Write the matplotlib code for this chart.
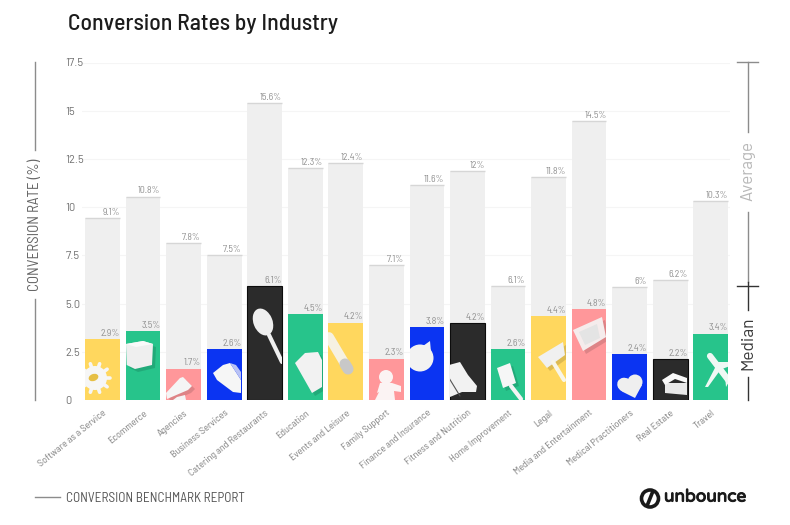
import matplotlib
matplotlib.use('Agg')
import matplotlib.pyplot as plt
import matplotlib.patheffects as pe
import numpy as np
from matplotlib.patches import Circle, Polygon, Ellipse

plt.rcParams['font.family'] = ['Barlow', 'Roboto', 'DejaVu Sans']
SEMI = ['Barlow Semi Condensed', 'Roboto', 'DejaVu Sans']

industries = ['Software as a Service', 'Ecommerce', 'Agencies', 'Business Services',
              'Catering and Restaurants', 'Education', 'Events and Leisure', 'Family Support',
              'Finance and Insurance', 'Fitness and Nutrition', 'Home Improvement', 'Legal',
              'Media and Entertainment', 'Medical Practitioners', 'Real Estate', 'Travel']
# bar heights as drawn, they sit a bit off from the printed labels
average = [9.43, 10.54, 8.12, 7.5, 15.38, 12.03, 12.27, 7.0,
           11.13, 11.85, 5.89, 11.54, 14.45, 5.84, 6.22, 10.3]
median = [3.16, 3.58, 1.62, 2.63, 5.91, 4.44, 4.01, 2.14,
          3.77, 3.98, 2.63, 4.35, 4.72, 2.38, 2.11, 3.44]
average_labels = ['9.1%', '10.8%', '7.8%', '7.5%', '15.6%', '12.3%', '12.4%', '7.1%',
                  '11.6%', '12%', '6.1%', '11.8%', '14.5%', '6%', '6.2%', '10.3%']
median_labels = ['2.9%', '3.5%', '1.7%', '2.6%', '6.1%', '4.5%', '4.2%', '2.3%',
                 '3.8%', '4.2%', '2.6%', '4.4%', '4.8%', '2.4%', '2.2%', '3.4%']
y_ticks = [0, 2.5, 5, 7.5, 10, 12.5, 15, 17.5]
y_tick_labels = ['0', '2.5', '5.0', '7.5', '10', '12.5', '15', '17.5']

YELLOW, GREEN, PINK, BLUE, BLACK = '#FFD75E', '#27C48B', '#FF979A', '#0B34F2', '#2B2B2B'
bar_colors = [YELLOW, GREEN, PINK, BLUE, BLACK, GREEN, YELLOW, PINK,
              BLUE, BLACK, GREEN, YELLOW, PINK, BLUE, BLACK, GREEN]

W, H = 790, 525
fig = plt.figure(figsize=(W / 100, H / 100), dpi=100, facecolor='white')
# plot area in pixels: x 82-730, y 62.5-400
ax = fig.add_axes([82 / W, 1 - 400 / H, 648 / W, 337.5 / H])
pitch = 40.55
ax.set_xlim((82 - 102.5) / pitch, (730 - 102.5) / pitch)
ax.set_ylim(0, 17.5)

x = np.arange(len(industries))
width = 34.7 / pitch
ax.bar(x, average, width, color='#EFEFEF', zorder=2)
ax.hlines(average, x - width / 2, x + width / 2, color='#D6D6D6', lw=1, zorder=3)
med_bars = ax.bar(x, median, width, color=bar_colors, zorder=4)
for b, c in zip(med_bars, bar_colors):
    if c == BLACK:
        b.set_edgecolor('#0C0C0C')
        b.set_linewidth(0.8)

for i in x:
    for val, lab in ((average[i], average_labels[i]), (median[i], median_labels[i])):
        ax.annotate(lab, (i + width / 2, val), xytext=(0, 1), textcoords='offset points',
                    ha='right', va='bottom', fontsize=7, color='#8F8F8F', zorder=6, family=SEMI)

ax.set_yticks(y_ticks)
ax.set_yticklabels(y_tick_labels, ha='left', fontsize=8, color='#707070')
ax.tick_params(axis='y', length=0, pad=12)
ax.set_xticks(x)
ax.set_xticklabels(industries, rotation=39, ha='right', rotation_mode='anchor',
                   fontsize=7.3, color='#808080', family=SEMI)
ax.tick_params(axis='x', length=0, pad=6)
ax.grid(axis='y', color='#F5F5F5', lw=0.8, zorder=0)
for s in ax.spines.values():
    s.set_visible(False)

# overlay in image pixels for the frame furniture and the white product icons
ov = fig.add_axes([0, 0, 1, 1], facecolor='none')
ov.set_xlim(0, W)
ov.set_ylim(H, 0)
ov.axis('off')

def vline(px, y0, y1, color='#8C8C8C'):
    ov.plot([px, px], [y0, y1], color=color, lw=1)

def hline(px0, px1, py, color='#8C8C8C'):
    ov.plot([px0, px1], [py, py], color=color, lw=1)

vline(35, 62, 150)
vline(35, 299, 400)
ov.text(35, 225, 'CONVERSION RATE (%)', rotation=90, ha='center', va='center',
        fontsize=10.8, color='#666666', family=SEMI)
hline(737, 758, 62)
vline(748, 62, 132)
ov.text(748, 171, 'Average', rotation=90, ha='center', va='center', fontsize=12.2,
        color='#B8B8B8')
vline(748, 212, 282)
hline(737, 758, 286, '#333333')
vline(748, 282, 310, '#333333')
ov.text(748, 343, 'Median', rotation=90, ha='center', va='center', fontsize=12.5,
        color='#3A3A3A')
vline(748, 377, 400, '#333333')

ov.text(68, 24, 'Conversion Rates by Industry', ha='left', va='center', fontsize=17,
        color='#1C1C1C', fontweight='medium', family=SEMI)
hline(35, 60, 497)
ov.text(66, 498, 'CONVERSION BENCHMARK REPORT', ha='left', va='center', fontsize=9.5,
        color='#555555', family=SEMI)

# logo
ov.add_patch(Circle((650, 498.5), 8.5, fc='white', ec='#1A1A1A', lw=2.6))
ov.plot([647, 653], [506, 491], color='#1A1A1A', lw=2.6, solid_capstyle='butt')
ov.text(664, 497, 'unbounce', ha='left', va='center', fontsize=12.4, color='#1A1A1A',
        family=['Varela Round', 'Roboto', 'DejaVu Sans'],
        path_effects=[pe.withStroke(linewidth=0.7, foreground='#1A1A1A')])

def poly(i, pts, fc='#F4F4F4', shadow=True):
    if shadow:
        s = Polygon(np.array(pts) + [3, 3], closed=True, fc='black', alpha=0.13, ec='none', zorder=5)
        ov.add_patch(s)
        s.set_clip_path(med_bars[i])
    p = Polygon(pts, closed=True, fc=fc, ec='none', zorder=5)
    ov.add_patch(p)
    p.set_clip_path(med_bars[i])

def ell(i, cx, cy, w, h, ang=0, fc='#F4F4F4'):
    p = Ellipse((cx, cy), w, h, angle=ang, fc=fc, ec='none', zorder=5)
    ov.add_patch(p)
    p.set_clip_path(med_bars[i])

def stroke(i, xs, ys, lw, color='#F4F4F4'):
    ln, = ov.plot(xs, ys, color=color, lw=lw, solid_capstyle='round', zorder=5)
    ln.set_clip_path(med_bars[i])

# gear
ell(0, 95, 378, 24, 24, fc='#F6F6F6')
for t in np.arange(0, 360, 36):
    a = np.radians(t)
    stroke(0, [95 + 10 * np.cos(a), 95 + 15 * np.cos(a)], [378 + 10 * np.sin(a), 378 + 15 * np.sin(a)], 2.6, '#F6F6F6')
ell(0, 93.5, 377.5, 10, 7, -20, fc='#E6BF45')
# box
poly(1, [(126, 344), (143, 341), (153, 344), (152, 365), (135, 369), (126.7, 365)], '#EFEFEF')
poly(1, [(126, 344), (143, 341), (153, 344), (136, 347)], '#FAFAFA', shadow=False)
# megaphone
poly(2, [(166, 393), (180, 378), (183, 377), (192, 386), (188, 390), (167, 399)], '#F5F5F5')
poly(2, [(177, 397), (185, 395), (186, 400), (173, 400)], '#F5F5F5', shadow=False)
# cap
poly(3, [(213, 373), (223, 365), (230, 363), (241, 380), (241, 393), (233, 392), (217, 380)], '#F6F6F6', shadow=False)
poly(3, [(230, 363), (236, 365), (241, 372), (241, 380)], '#B9C2F5', shadow=False)
# spoon
ell(4, 263, 322, 19, 28, -22, fc='#EFEFEF')
stroke(4, [269, 282], [335, 362], 3, '#EFEFEF')
# carton
poly(5, [(295, 363), (305, 353), (318, 352), (322, 360), (322, 387), (312, 393)], '#F2F2F2')
# torch
stroke(6, [329, 345], [337, 364], 7, '#F6F1E2')
stroke(6, [345, 348], [364, 369], 8, '#C8C8C8')
# figure
ell(7, 386, 377, 14, 14, fc='#FBF3F3')
poly(7, [(380, 383), (392, 383), (401, 386), (401, 392), (394, 391), (395, 400), (375, 400), (379, 392), (377, 393)], '#FBF3F3', shadow=False)
# piggy bank
ell(8, 420, 358, 27, 27, fc='#F2F2F2')
poly(8, [(423, 346), (430, 341), (431, 352)], '#F2F2F2', shadow=False)
# shoes
poly(9, [(449, 365), (460, 362), (468, 375), (477, 386), (476, 392), (462, 392), (450, 397)], '#F2F2F2', shadow=False)
stroke(9, [449, 460], [378, 396], 0.8, '#555555')
# brush
poly(10, [(497, 368), (510, 363), (516, 383), (503, 388)], '#F6F6F6')
stroke(10, [511, 521], [386, 399], 3)
# gavel
poly(11, [(538, 357), (563, 342), (565, 355), (547, 368)], '#F0F0F0')
stroke(11, [553, 564], [362, 380], 3, '#F8F6E8')
# television
poly(12, [(573, 330), (602, 317), (606, 337), (583, 351)], '#F5ECEC')
poly(12, [(579, 332), (597, 324), (600, 338), (585, 345)], '#E4E4E4', shadow=False)
# heart
ell(13, 625, 385, 16, 14, 30, fc='#EFEFEF')
ell(13, 635, 382, 15, 15, fc='#EFEFEF')
poly(13, [(618, 387), (642, 385), (635, 398), (623, 392)], '#EFEFEF', shadow=False)
# house
poly(14, [(665, 383), (687, 383), (687, 395), (665, 393)], '#E9E9E9', shadow=False)
poly(14, [(662, 380), (673, 373), (687, 378), (687, 383), (675, 379), (665, 385)], '#FAFAFA', shadow=False)
# plane
stroke(15, [710, 729], [356, 381], 4.5, '#EFF8F4')
poly(15, [(717, 364), (721, 369), (708, 387), (705, 387)], '#EFF8F4', shadow=False)
poly(15, [(717, 362), (730, 362), (730, 366), (722, 369)], '#EFF8F4', shadow=False)
poly(15, [(725, 375), (730, 380), (726, 387)], '#EFF8F4', shadow=False)

fig.savefig('out.png', dpi=100)
